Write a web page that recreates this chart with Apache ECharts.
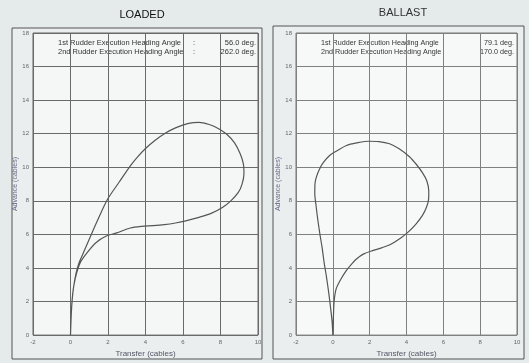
<!DOCTYPE html>
<html>
<head>
<meta charset="utf-8">
<script src="https://cdn.jsdelivr.net/npm/echarts@6/dist/echarts.min.js"></script>
<style>
html,body{margin:0;padding:0;background:#e5eaeb;}
#c{width:529px;height:363px;}
</style>
</head>
<body>
<div id="c"></div>
<script>
// Panel titles
var panelTitles = ['LOADED', 'BALLAST'];
// Legend labels and values
var rudderLabels = ['1st Rudder Execution Heading Angle', '2nd Rudder Execution Heading Angle'];
var loadedAngles = ['56.0 deg.', '262.0 deg.'];
var ballastAngles = ['79.1 deg.', '170.0 deg.'];
// Axis ticks
var xTicks = [-2, 0, 2, 4, 6, 8, 10];
var yTicks = [0, 2, 4, 6, 8, 10, 12, 14, 16, 18];
var xName = 'Transfer (cables)';
var yName = 'Advance (cables)';
// Tracks: [transfer, advance] in cables
var loadedTrack = [
  [0,0],[0.03,1],[0.08,2],[0.17,2.9],[0.34,3.75],[0.55,4.38],[0.91,4.95],[1.37,5.52],[1.91,5.9],[2.46,6.09],
  [3.19,6.38],[3.8,6.48],[4.4,6.52],[5.0,6.58],[5.6,6.68],[6.2,6.82],[6.8,7.0],[7.5,7.25],[8.1,7.6],
  [8.55,8.0],[8.95,8.5],[9.15,9.0],[9.25,9.6],[9.22,10.2],[9.05,10.8],[8.75,11.45],[8.35,11.95],
  [7.9,12.3],[7.4,12.55],[6.85,12.68],[6.3,12.62],[5.6,12.35],[5.05,12.03],[4.5,11.6],[4.0,11.12],
  [3.58,10.62],[3.2,10.1],[2.6,9.12],[1.97,8.08],[1.42,6.78],[1.0,5.71],[0.63,4.76],[0.45,4.29],
  [0.3,3.7],[0.17,2.9],[0.09,2.1],[0.04,1.2],[0,0]
];
var ballastTrack = [
  [0,0],[0.03,1],[0.07,2],[0.18,2.75],[0.42,3.3],[0.7,3.8],[0.96,4.16],[1.3,4.55],[1.68,4.84],
  [2.2,5.05],[2.65,5.2],[3.1,5.38],[3.65,5.75],[4.1,6.15],[4.5,6.6],[4.85,7.1],[5.08,7.6],[5.2,8.1],
  [5.21,8.6],[5.1,9.2],[4.88,9.65],[4.55,10.15],[4.16,10.63],[3.6,11.1],[3.08,11.4],[2.5,11.53],
  [1.96,11.55],[1.3,11.45],[0.74,11.3],[0.25,11.0],[-0.16,10.72],[-0.5,10.3],[-0.72,9.9],[-0.9,9.4],
  [-0.97,9.0],[-0.98,8.4],[-0.92,7.8],[-0.82,6.9],[-0.7,6.0],[-0.58,5.2],[-0.47,4.3],[-0.35,3.5],
  [-0.22,2.5],[-0.12,1.6],[-0.04,0.8],[0,0]
];

var chart = echarts.init(document.getElementById('c'));
var tf = 'Arial, Liberation Sans, sans-serif';
var lbl = {fontSize: 6, color: '#666', fontFamily: tf};
function xAxisFor(i) {
  return {
    gridIndex: i, type: 'value', min: xTicks[0], max: xTicks[xTicks.length - 1], interval: 2,
    name: xName, nameLocation: 'middle', nameGap: 14,
    nameTextStyle: {fontSize: 8, color: '#556', fontFamily: tf},
    axisLine: {show: false}, axisTick: {show: false},
    axisLabel: Object.assign({margin: 4}, lbl),
    splitLine: {show: true, lineStyle: {color: i === 0 ? '#6a6a6a' : '#808080', width: 1}}
  };
}
function yAxisFor(i) {
  return {
    gridIndex: i, type: 'value', min: yTicks[0], max: yTicks[yTicks.length - 1], interval: 2,
    name: yName, nameLocation: 'middle', nameGap: i === 0 ? 10 : 8, nameRotate: 90,
    nameTextStyle: {fontSize: 7, color: '#668', fontFamily: tf},
    axisLine: {show: false}, axisTick: {show: false},
    axisLabel: Object.assign({margin: 4}, lbl),
    splitLine: {show: true, lineStyle: {color: i === 0 ? '#6a6a6a' : '#808080', width: 1}}
  };
}
function legendTexts(x0, xColon, xVal, values, colon, size) {
  var out = [];
  for (var i = 0; i < rudderLabels.length; i++) {
    var y = 43 + i * 9;
    var font = size + 'px ' + tf;
    out.push({type: 'text', x: x0, y: y, style: {text: rudderLabels[i], font: font, fill: '#333', textVerticalAlign: 'middle'}});
    if (colon) out.push({type: 'text', x: xColon, y: y, style: {text: ':', font: font, fill: '#333', textVerticalAlign: 'middle'}});
    out.push({type: 'text', x: xVal, y: y, style: {text: values[i], font: font, fill: '#333', textAlign: 'right', textVerticalAlign: 'middle'}});
  }
  return out;
}
var graphics = [
  {type: 'rect', shape: {x: 12, y: 28, width: 250, height: 331}, style: {fill: '#eaeeee', stroke: '#555', lineWidth: 1}, z: -10},
  {type: 'rect', shape: {x: 273, y: 26, width: 251, height: 333}, style: {fill: '#eaeeee', stroke: '#555', lineWidth: 1}, z: -10}
].concat(legendTexts(58, 193, 256, loadedAngles, true, 7.5)).concat(legendTexts(321, 0, 514, ballastAngles, false, 7.2));

chart.setOption({
  animation: false,
  backgroundColor: '#e5eaeb',
  title: [
    {text: panelTitles[0], left: 137, top: 4, textAlign: 'center', textStyle: {fontSize: 11, fontWeight: 'normal', color: '#111', fontFamily: tf}},
    {text: panelTitles[1], left: 398, top: 2, textAlign: 'center', textStyle: {fontSize: 11, fontWeight: 'normal', color: '#333', fontFamily: tf}}
  ],
  grid: [
    {left: 33, top: 33, width: 225, height: 306, show: true, backgroundColor: '#f5f7f7', borderColor: '#666', borderWidth: 1},
    {left: 296, top: 33, width: 221, height: 306, show: true, backgroundColor: '#f7f9f9', borderColor: '#777', borderWidth: 1}
  ],
  xAxis: [xAxisFor(0), xAxisFor(1)],
  yAxis: [yAxisFor(0), yAxisFor(1)],
  graphic: graphics,
  series: [
    {type: 'line', xAxisIndex: 0, yAxisIndex: 0, data: loadedTrack, showSymbol: false, smooth: 0.3,
     lineStyle: {color: '#555', width: 1.2}},
    {type: 'line', xAxisIndex: 1, yAxisIndex: 1, data: ballastTrack, showSymbol: false, smooth: 0.3,
     lineStyle: {color: '#555', width: 1.2}}
  ]
});
</script>
</body>
</html>
